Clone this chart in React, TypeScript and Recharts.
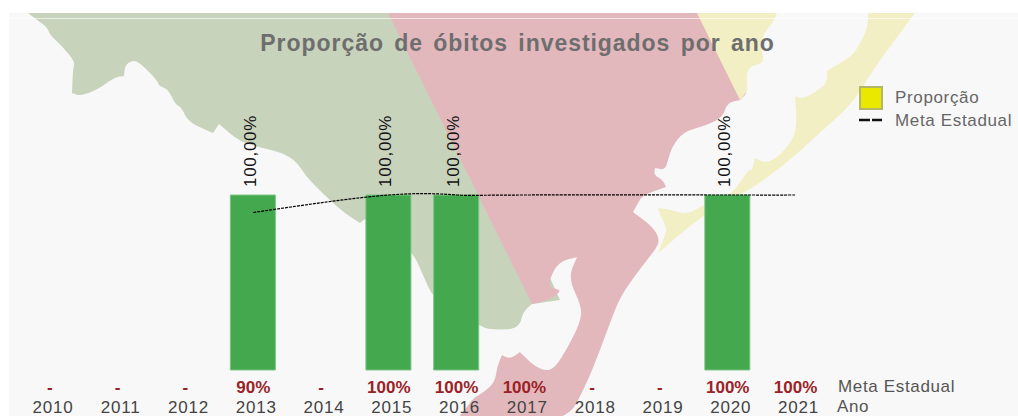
import { Bar, Line, XAxis, YAxis, LabelList, Legend, ComposedChart } from 'recharts'

const years = ['2010', '2011', '2012', '2013', '2014', '2015', '2016', '2017', '2018', '2019', '2020', '2021']
const proportion = [null, null, null, 100, null, 100, 100, null, null, null, 100, null]
const goal = [null, null, null, 90, null, 100, 100, 100, null, null, 100, 100]
const goalLabels = ['-', '-', '-', '90%', '-', '100%', '100%', '100%', '-', '-', '100%', '100%']

const data = years.map((year, i) => ({
  year,
  proporcao: proportion[i],
  meta: goal[i],
}))

// map behind the chart. a repeated point keeps a sharp corner
const GREEN = '19 6 19 6 37 20 47 27 50 35 63 47 75 62 73 68 72 93 72 93 80 96 97 90 115 77 124 76 124 76 125 65 133 60 140 63 157 80 159 86 168 89 175 104 182 108 188 122 213 133 213 133 219 124 219 124 240 142 263 148 283 153 297 162 307 178 340 210 360 223 360 223 367 217 412 250 423 275 433 298 458 312 479 325 487 329 510 330 520 325 523 312 532 304 532 304 560 300 560 300 420 -10 420 -10 19 -10 19 -10'
const PINK = '385 7 385 7 690 -10 720 13 750 90 740 100 740 100 727 103 723 117 707 125 683 132 672 147 668 160 665 170 655 168 655 168 654 175 663 180 666 187 666 187 643 195 638 203 633 212 633 212 653 227 660 240 655 250 647 260 637 273 620 297 610 323 600 350 587 383 565 425 450 425 463 413 473 398 483 393 495 382 497 367 502 355 502 355 510 359 520 352 520 352 533 365 545 371 555 368 568 347 580 323 582 307 568 278 577 257 577 257 558 262 548 283 553 289 562 290 550 300 532 304 532 304'
const YELLOW_A = '693 5 693 5 780 5 777 13 773 23 765 31 760 46 765 63 750 66 746 75 748 90 740 100 740 100'
const YELLOW_B = '868 5 868 5 921 5 921 5 900 33 873 70 853 103 823 130 790 160 760 183 740 195 703 215 658 253 658 253 665 235 667 228 660 215 658 208 658 208 673 210 687 215 703 205 730 195 740 183 748 170 752 170 752 170 755 158 755 158 765 163 777 158 793 140 797 123 795 96 795 96 803 99 817 91 827 83 827 71 827 71 840 63 853 55 862 40 868 26'

function smooth(points: string) {
  const n = points.split(' ').map(Number)
  const pts = []
  for (let i = 0; i < n.length; i += 2) pts.push([n[i], n[i + 1]])
  const mid = (a: number[], b: number[]) => `${(a[0] + b[0]) / 2} ${(a[1] + b[1]) / 2}`
  let d = `M${mid(pts[pts.length - 1], pts[0])}`
  pts.forEach((p, i) => {
    d += ` Q${p[0]} ${p[1]} ${mid(p, pts[(i + 1) % pts.length])}`
  })
  return d + ' Z'
}

function YearTick({ x, y, payload, index }: any) {
  return (
    <g>
      <text x={x} y={y + 15} textAnchor="middle" fontFamily="Liberation Sans" fontWeight="bold" fontSize={17} fill="#9a2227">
        {goalLabels[index]}
      </text>
      <text x={x + 3} y={y + 35} textAnchor="middle" fontFamily="Liberation Sans" fontSize={17} letterSpacing={0.8} fill="#444">
        {payload.value}
      </text>
    </g>
  )
}

function ValueLabel({ x, y, width, value }: any) {
  if (value == null) return null
  const cx = x + width / 2 + 3
  const cy = y - 8
  return (
    <text transform={`translate(${cx},${cy}) rotate(-90)`} fontFamily="Liberation Sans" fontSize={17} letterSpacing={0.7} fill="#111">
      100,00%
    </text>
  )
}

function LegendBox() {
  const labelStyle = { fontFamily: 'Liberation Sans', fontSize: 17, letterSpacing: 0.65, color: '#666', position: 'absolute', left: 36, whiteSpace: 'nowrap' } as any
  return (
    <div style={{ position: 'relative', width: 160, height: 0 }}>
      <div style={{ position: 'absolute', left: 0, top: 0, width: 20, height: 20, background: '#ebe800', border: '2px solid #b5b56a', boxSizing: 'content-box', margin: '-0.5px' }} />
      <div style={{ ...labelStyle, top: 2 }}>Proporção</div>
      <svg style={{ position: 'absolute', left: 0, top: 31 }} width={24} height={6}>
        <line x1={0} y1={3} x2={23} y2={3} stroke="#111" strokeWidth={2.5} strokeDasharray="11 2" />
      </svg>
      <div style={{ ...labelStyle, top: 25 }}>Meta Estadual</div>
    </div>
  )
}

export default function App() {
  return (
    <div style={{ position: 'absolute', left: 0, top: 0, width: 1018, height: 416, background: '#fff', overflow: 'hidden' }}>
      <svg style={{ position: 'absolute', left: 0, top: 0 }} width={1018} height={416}>
        <rect x={9} y={13} width={1009} height={403} fill="#f8f8f8" />
        <clipPath id="mapClip">
          <rect x={9} y={13} width={1009} height={403} />
        </clipPath>
        <g clipPath="url(#mapClip)">
          <g style={{ filter: 'blur(0.6px)' }}>
            <path d={smooth(GREEN)} fill="#c8d3bb" />
            <path d={smooth(PINK)} fill="#e3b8bd" />
            <path d={smooth(YELLOW_A)} fill="#f3efc4" />
            <path d={smooth(YELLOW_B)} fill="#f3efc4" />
          </g>
        </g>
        <rect x={9} y={18} width={1009} height={1} fill="#fff" opacity={0.6} />
      </svg>
      <div style={{ position: 'absolute', left: 0, top: 0 }}>
        <ComposedChart width={1018} height={416} data={data} margin={{ top: 195, right: 188.6, bottom: 0, left: 16 }}>
          <XAxis dataKey="year" interval={0} height={46} axisLine={false} tickLine={false} tick={<YearTick />} />
          <YAxis hide domain={[0, 100]} />
          <Bar dataKey="proporcao" fill="#43a84e" stroke="#7cc585" strokeWidth={1} barSize={45} isAnimationActive={false}>
            <LabelList dataKey="proporcao" content={<ValueLabel />} />
          </Bar>
          <Line dataKey="meta" type="natural" connectNulls stroke="#000" strokeWidth={1.2} strokeDasharray="3 1" dot={false} activeDot={false} isAnimationActive={false} />
          <Legend content={<LegendBox />} wrapperStyle={{ position: 'absolute', left: 859, top: 86, width: 160, bottom: 'auto' }} />
          <text x={517.5} y={51} textAnchor="middle" fontFamily="Liberation Sans" fontWeight="bold" fontSize={23} letterSpacing={0.95} wordSpacing={3} fill="#6e6e6e">
            Proporção de óbitos investigados por ano
          </text>
          <text x={838} y={392} fontFamily="Liberation Sans" fontSize={17} letterSpacing={0.65} fill="#555">Meta Estadual</text>
          <text x={837} y={412} fontFamily="Liberation Sans" fontSize={17} letterSpacing={0.65} fill="#555">Ano</text>
        </ComposedChart>
      </div>
    </div>
  )
}
